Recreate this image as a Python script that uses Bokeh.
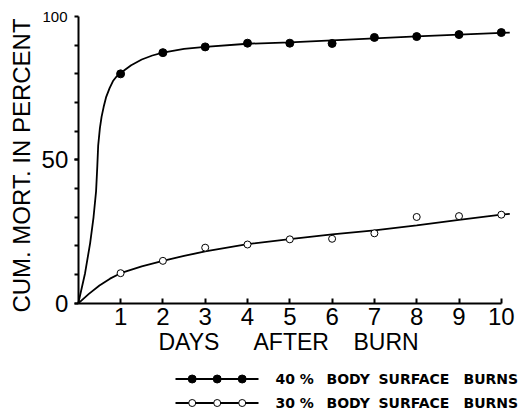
import math
from bokeh.plotting import figure
from bokeh.models import FixedTicker, Range1d, LinearAxis
from bokeh.embed import file_html
from bokeh.resources import INLINE
from bokeh.core.properties import value

# ---- data ----
days = [1, 2, 3, 4, 5, 6, 7, 8, 9, 10]
mort40 = [80.0, 87.4, 89.4, 90.7, 90.7, 90.6, 92.7, 93.0, 93.7, 94.4]
mort30 = [10.5, 14.8, 19.4, 20.5, 22.3, 22.5, 24.4, 30.1, 30.4, 30.9]

# hand-drawn fitted curves
curve40_x = [0, 0.16, 0.28, 0.36, 0.42, 0.45, 0.47, 0.51, 0.55, 0.6, 0.66, 0.74, 0.82, 0.9, 1.0,
             1.25, 1.5, 1.75, 2.0, 2.5, 3, 4, 5, 6, 7, 8, 9, 10, 10.2]
curve40_y = [0, 10.5, 21, 30, 39, 48, 55, 61, 65, 68.5, 72, 75, 77.5, 79, 80.3,
             83, 85, 86.4, 87.4, 88.7, 89.4, 90.5, 91.0, 91.7, 92.4, 93.1, 93.7, 94.3, 94.4]
curve30_x = [0, 0.25, 0.5, 0.75, 1, 1.5, 2, 2.5, 3, 4, 5, 6, 7, 8, 9, 10, 10.2]
curve30_y = [0, 3.3, 6.2, 8.6, 10.5, 12.9, 14.8, 16.5, 18.1, 20.6, 22.4, 24.0, 25.4, 27.2, 29.1, 30.9, 31.2]

x_ticks = [1, 2, 3, 4, 5, 6, 7, 8, 9, 10]
y_major = [0, 50]
y_minor = [0, 10, 20, 30, 40, 50, 60, 70, 80, 90, 100]
y_top_label = "100"

x_title_words = ["DAYS", "AFTER", "BURN"]
y_title = "CUM. MORT. IN PERCENT"
legend_labels = [["40 %", "BODY", "SURFACE", "BURNS"], ["30 %", "BODY", "SURFACE", "BURNS"]]

# ---- layout geometry (screen pixels of the page) ----
W, H, MARGIN = 523, 415, 0
X0_PX, PX_DAY = 77.8, 42.3      # page x of day 0, pixels per day
Y0_PX, PX_PCT = 302.8, 2.868    # page y of 0 %, pixels per percent


def dx(px):
    return (px - X0_PX) / PX_DAY


def dy(py):
    return (Y0_PX - py) / PX_PCT


FONT = "Liberation Sans"
NARROW = "'Liberation Sans Narrow', 'Liberation Sans'"

p = figure(width=W, height=H,
           x_range=Range1d(dx(MARGIN), dx(MARGIN + W)),
           y_range=Range1d(dy(MARGIN + H), dy(MARGIN)),
           x_axis_type=None, y_axis_type=None,
           toolbar_location=None, output_backend="svg", min_border=0)
p.outline_line_color = None
p.grid.visible = False
p.background_fill_color = "white"
p.border_fill_color = "white"

# x axis at y = 0
xa = LinearAxis(fixed_location=0)
xa.ticker = FixedTicker(ticks=x_ticks, minor_ticks=[])
xa.bounds = (0, 10)
xa.axis_line_width = 2
xa.axis_line_color = "black"
xa.major_tick_in = 5
xa.major_tick_out = 0
xa.major_tick_line_width = 2
xa.minor_tick_line_color = None
xa.major_label_text_font = FONT
xa.major_label_text_font_size = "24px"
xa.major_label_text_color = "black"
xa.major_label_standoff = 5
p.add_layout(xa, "below")

# y axis at x = 0
ya = LinearAxis(fixed_location=0)
ya.ticker = FixedTicker(ticks=y_major, minor_ticks=y_minor)
ya.bounds = (0, 100)
ya.axis_line_width = 2
ya.axis_line_color = "black"
ya.major_tick_in = 0
ya.major_tick_out = 4
ya.major_tick_line_width = 2
ya.minor_tick_in = 0
ya.minor_tick_out = 4
ya.minor_tick_line_width = 2
ya.minor_tick_line_color = "black"
ya.major_label_text_font = FONT
ya.major_label_text_font_size = "24px"
ya.major_label_text_color = "black"
ya.major_label_standoff = 6
p.add_layout(ya, "left")

# smaller "100" at the top of the y axis
p.text(x=[dx(67)], y=[100], text=[y_top_label], text_font=value(FONT), text_font_size="15px",
       text_align="right", text_baseline="middle", text_color="black")

# axis titles
p.text(x=[dx(21)], y=[dy(165)], text=[y_title], angle=math.pi / 2, text_font=value(NARROW),
       text_font_size="24px", text_align="center", text_baseline="middle", text_color="black")
p.text(x=[dx(158), dx(253), dx(353)], y=[dy(341)] * 3, text=x_title_words, text_font=value(NARROW),
       text_font_size="23px", text_align="left", text_baseline="middle", text_color="black")

# curves
p.line(curve40_x, curve40_y, line_color="black", line_width=1.8)
p.line(curve30_x, curve30_y, line_color="black", line_width=1.8)
# points
p.scatter(days, mort40, marker="circle", size=8, fill_color="black", line_color="black")
p.scatter(days, mort30, marker="circle", size=7, fill_color="white", line_color="black", line_width=1)

# legend (drawn key below the chart)
rows_py = [378.5, 402.5]
fills = ["black", "white"]
sizes = [8, 7]
word_px = [275, 326, 378, 463]
for r in range(2):
    yy = dy(rows_py[r])
    p.line([dx(175), dx(258)], [yy, yy], line_color="black", line_width=2)
    p.scatter([dx(191.7), dx(216.7), dx(241.7)], [yy] * 3, marker="circle", size=sizes[r],
              fill_color=fills[r], line_color="black", line_width=1)
    p.text(x=[dx(v) for v in word_px], y=[yy] * 4, text=legend_labels[r], text_font=value("DejaVu Sans"),
           text_font_style="bold", text_font_size="14px", text_baseline="middle",
           text_align="left", text_color="black")

open("out.html", "w").write(file_html(p, INLINE))
